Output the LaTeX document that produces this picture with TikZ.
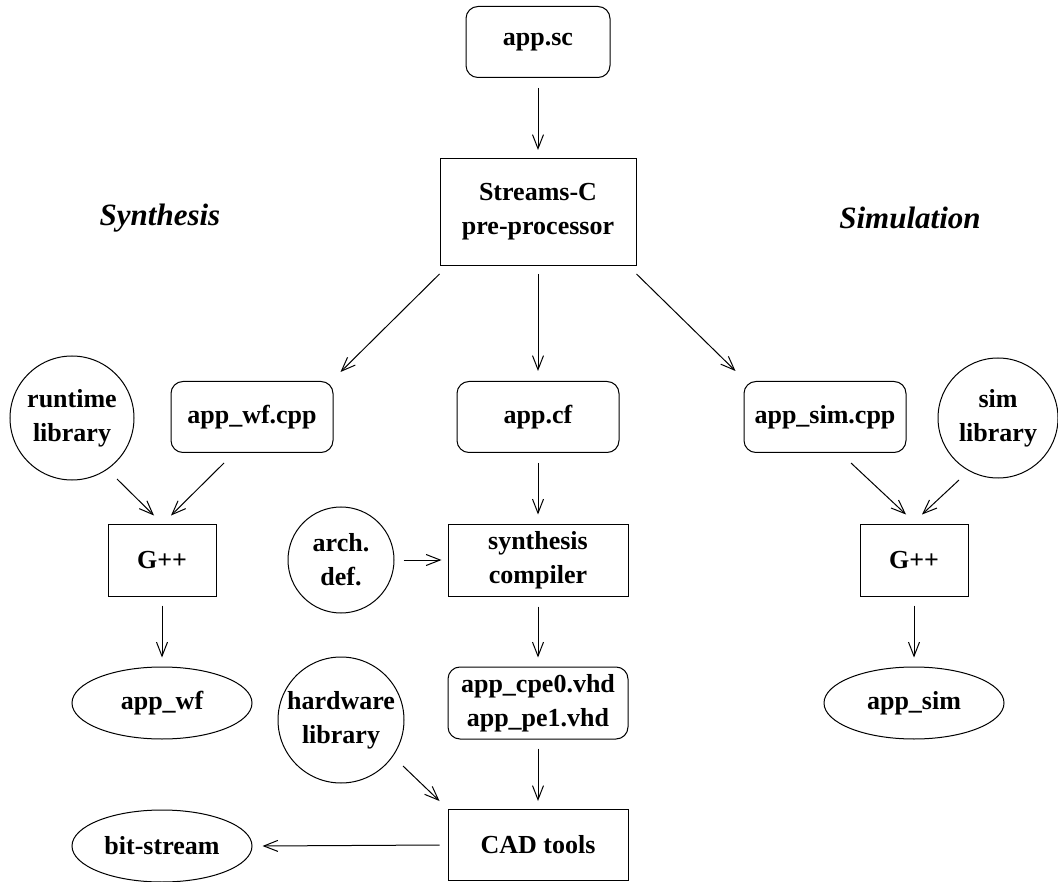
\documentclass[tikz,border=0pt]{standalone}
\usepackage{fontspec}
\setmainfont{Liberation Serif}
\usetikzlibrary{arrows.meta,shapes.geometric,calc}
\begin{document}
\begin{tikzpicture}[x=1pt,y=-1pt,
  every node/.style={font=\fontsize{26}{34}\selectfont\bfseries, align=center, inner sep=0pt, line width=1pt},
  rbox/.style={draw, rounded corners=12pt, minimum width=162pt, minimum height=71pt},
  sbox/.style={draw, minimum width=180pt, minimum height=72pt},
  gbox/.style={draw, minimum width=108pt, minimum height=72pt},
  lib/.style={draw, circle, minimum size=124pt},
  oval/.style={draw, ellipse, minimum width=180pt, minimum height=72pt},
  title/.style={font=\fontsize{31}{36}\selectfont\bfseries\itshape},
  conn/.style={line width=1pt, -{Straight Barb[length=14pt,width=11pt]}}
]
\useasboundingbox (0,0) rectangle (1058,882);
% nodes
\node[rbox, minimum width=144pt] (sc) at (538,42) {app.sc};
\node[draw, minimum width=196pt, minimum height=107pt] (pp) at (538,212) {Streams-C\\pre-processor};
\node[title] (syn) at (160,218) {Synthesis};
\node[title] (sim) at (910,218) {Simulation};
\node[rbox] (wfcpp) at (252,417) {app\_wf.cpp};
\node[rbox] (cf) at (538,417) {app.cf};
\node[rbox] (simcpp) at (825,417) {app\_sim.cpp};
\node[lib] (rt) at (72,418) {runtime\\library};
\node[lib, minimum size=120pt] (sl) at (998,418) {sim\\library};
\node[gbox] (g1) at (162,560) {G++};
\node[gbox] (g2) at (914,560) {G++};
\node[sbox] (sc2) at (538,560) {synthesis\\compiler};
\node[lib, minimum size=106pt] (arch) at (341,560) {arch.\\def.};
\node[oval] (wf) at (162,703) {app\_wf};
\node[oval] (as) at (914,703) {app\_sim};
\node[draw, rounded corners=12pt, minimum width=180pt, minimum height=72pt] (cpe) at (538,703) {app\_cpe0.vhd\\app\_pe1.vhd};
\node[lib, minimum size=126pt] (hw) at (341,720) {hardware\\library};
\node[sbox, minimum height=71pt] (cad) at (538,845) {CAD tools};
\node[oval] (bs) at (162,846) {bit-stream};
% connectors
\draw[conn] ($(sc.south)+(0,10)$) -- ($(pp.north)+(0,-8)$);
\draw[conn] ($(pp.south west)+(0,8)$) -- ($(wfcpp.north east)+(7,-9)$);
\draw[conn] ($(pp.south)+(0,8)$) -- ($(cf.north)+(0,-10)$);
\draw[conn] ($(pp.south east)+(0,8)$) -- ($(simcpp.north west)+(-8,-10)$);
\draw[conn] ($(rt.center)+(45,61)$) -- ($(g1.north)+(-8,-8)$);
\draw[conn] ($(wfcpp.south)+(-28,10)$) -- ($(g1.north)+(9,-8)$);
\draw[conn] ($(g1.south)+(0,9)$) -- ($(wf.north)+(0,-9)$);
\draw[conn] ($(cf.south)+(0,10)$) -- ($(sc2.north)+(0,-9)$);
\draw[conn] ($(arch.east)+(9,0)$) -- ($(sc2.west)+(-6,0)$);
\draw[conn] ($(sc2.south)+(0,10)$) -- ($(cpe.north)+(0,-9)$);
\draw[conn] ($(hw.center)+(62,46)$) -- ($(cad.north west)+(-8,-8)$);
\draw[conn] ($(cpe.south)+(0,9)$) -- ($(cad.north)+(0,-8)$);
\draw[conn] ($(cad.west)+(-8,0)$) -- ($(bs.east)+(10,0)$);
\draw[conn] ($(simcpp.south)+(26,10)$) -- ($(g2.north)+(-8,-9)$);
\draw[conn] ($(sl.center)+(-39,62)$) -- ($(g2.north)+(8,-9)$);
\draw[conn] ($(g2.south)+(0,9)$) -- ($(as.north)+(0,-9)$);
\end{tikzpicture}
\end{document}
